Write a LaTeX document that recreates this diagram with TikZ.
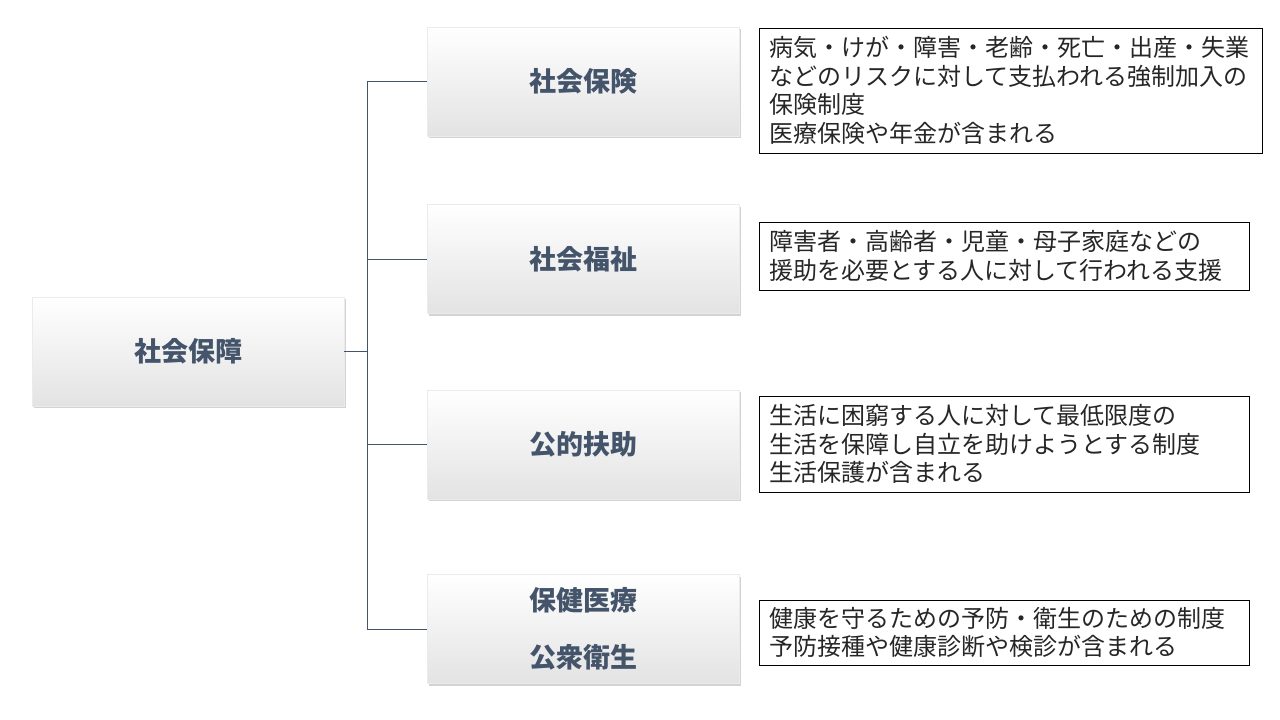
\documentclass[tikz,border=0pt]{standalone}
\usepackage{fontspec}
\setmainfont{Noto Sans CJK JP}
\usetikzlibrary{shadows}
\definecolor{slate}{HTML}{44546A}
\tikzset{
  headbox/.style={minimum width=312pt, minimum height=109pt, draw=black!8,
    top color=white, middle color=white, bottom color=black!11,
    drop shadow={shadow xshift=1.5pt, shadow yshift=-2pt, opacity=0.35},
    font=\fontsize{27}{32}\selectfont\bfseries, text=slate, align=center},
  notebox/.style={draw, line width=1pt, align=left, inner xsep=10pt,
    font=\fontsize{24}{28.5}\selectfont, text=black!85},
  branch/.style={draw=slate, line width=1pt}
}
\begin{document}
\begin{tikzpicture}[x=1pt,y=-1pt]
  \useasboundingbox (0,0) rectangle (1280,720);
  \node[headbox] (main) at (188,351.5) {社会保障};
  \node[headbox] (hoken) at (583,81.5) {社会保険};
  \node[headbox] (fukushi) at (583,259) {社会福祉};
  \node[headbox] (fujo) at (583,444.5) {公的扶助};
  \node[headbox] (eisei) at (583,629) {保健医療\\[25pt]公衆衛生};
  % notes
  \node[notebox, text width=483pt, minimum height=125pt] (hokennote) at (1010.5,90.5)
    {病気・けが・障害・老齢・死亡・出産・失業\\などのリスクに対して支払われる強制加入の\\保険制度\\医療保険や年金が含まれる};
  \node[notebox, text width=470pt, minimum height=68pt] (fukushinote) at (1004,256)
    {障害者・高齢者・児童・母子家庭などの\\援助を必要とする人に対して行われる支援};
  \node[notebox, text width=470pt, minimum height=96pt] (fujonote) at (1004,444)
    {生活に困窮する人に対して最低限度の\\生活を保障し自立を助けようとする制度\\生活保護が含まれる};
  \node[notebox, text width=470pt, minimum height=65pt] (eiseinote) at (1004,632.5)
    {健康を守るための予防・衛生のための制度\\予防接種や健康診断や検診が含まれる};
  % tree
  \coordinate (trunk) at (367,0);
  \draw[branch] (main.east) -- (main.east -| trunk);
  \draw[branch] (hoken.west -| trunk) -- (eisei.west -| trunk);
  \foreach \n in {hoken,fukushi,fujo,eisei}
    \draw[branch] (\n.west -| trunk) -- (\n.west);
\end{tikzpicture}
\end{document}
